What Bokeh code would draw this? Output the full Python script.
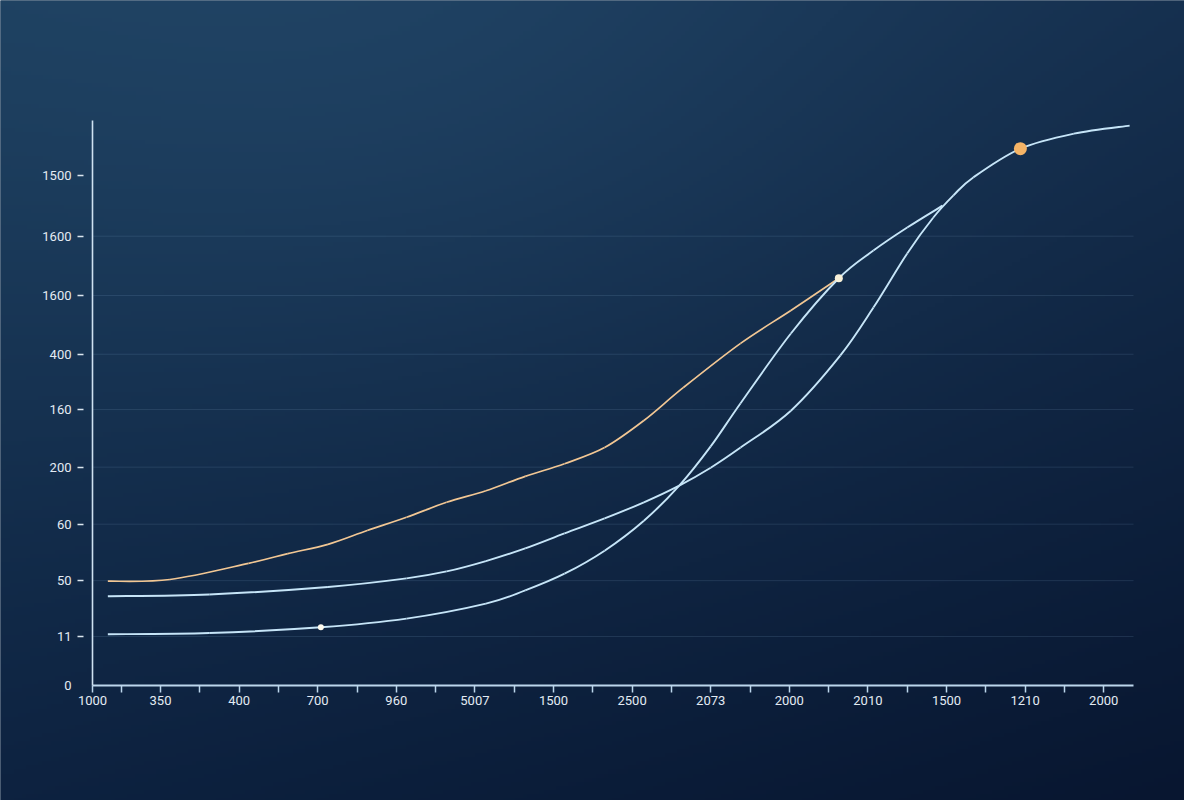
import numpy as np
from bokeh.plotting import figure
from bokeh.models import LinearAxis, FixedTicker, Range1d
from bokeh.embed import file_html
from bokeh.resources import INLINE

# ---------------- data ----------------
x_labels = ["1000", "350", "400", "700", "960", "5007", "1500", "2500",
            "2073", "2000", "2010", "1500", "1210", "2000"]
y_labels = ["0", "11", "50", "60", "200", "160", "400", "1600", "1600", "1500"]
y_levels = [0.15, 1.0, 1.97, 2.95, 3.94, 4.94, 5.90, 6.92, 7.95, 9.0]

orange_x = [-0.67, 0.12, 1.12, 1.62, 2.13, 2.63, 3.13, 3.64, 4.14, 4.64, 5.14,
            5.65, 6.15, 6.65, 7.38, 8.02, 8.63]
orange_y = [1.96, 1.99, 2.27, 2.44, 2.60, 2.84, 3.07, 3.33, 3.53, 3.78, 4.00,
            4.28, 4.75, 5.32, 6.09, 6.66, 7.22]

a_x = [-0.67, 0.62, 2.13, 3.13, 3.64, 4.14, 4.64, 5.14, 5.65, 6.15, 6.60, 7.00,
       7.38, 8.02, 8.65, 9.07, 9.50, 9.83, 10.09, 10.34, 10.94, 11.62, 12.33]
a_y = [1.70, 1.73, 1.86, 2.01, 2.13, 2.31, 2.53, 2.79, 3.05, 3.33, 3.62, 3.93,
       4.28, 4.92, 5.88, 6.71, 7.65, 8.27, 8.66, 8.97, 9.47, 9.73, 9.87]

b_x = [-0.67, 0.62, 2.04, 3.13, 4.14, 4.64, 5.14, 5.65, 6.15, 6.60, 7.00,
       7.38, 8.02, 8.63, 9.07, 9.50, 9.95]
b_y = [1.04, 1.06, 1.16, 1.31, 1.57, 1.80, 2.09, 2.49, 3.01, 3.62, 4.30,
       5.05, 6.26, 7.22, 7.70, 8.10, 8.48]

dot_x = [2.04, 8.63, 10.94]
dot_y = [1.16, 7.22, 9.47]

# ---------------- layout ----------------
W, H = 1184, 800
PX0, DX = 160.0, 78.6      # px of x=0, px per x unit
PY1, DY = 636.0, 57.6      # py (from top) of y=1, px per y unit

x_range = Range1d(-PX0 / DX, (W - PX0) / DX)
y_range = Range1d(1 - (H - PY1) / DY, 1 + PY1 / DY)

X_ORIGIN = (92 - PX0) / DX
X_END = (1133 - PX0) / DX
Y_ORIGIN = y_levels[0]
Y_TOP = 1 + (PY1 - 120) / DY
X_TICKAXIS = (83 - PX0) / DX

p = figure(width=W, height=H, x_range=x_range, y_range=y_range,
           output_backend="svg", toolbar_location=None,
           x_axis_location=None, y_axis_location=None, min_border=0)
p.title.visible = False
p.outline_line_color = None
p.background_fill_color = "#15304f"
p.border_fill_color = "#15304f"
p.xgrid.visible = False
p.ygrid.visible = False

# background gradient (slightly oversized so no edge seam shows)
nx, ny = 296, 200
PAD = 6.0
cols = -PAD + (np.arange(nx) + 0.5) * (W + 2 * PAD) / nx
rows = H + PAD - (np.arange(ny) + 0.5) * (H + 2 * PAD) / ny
PXg, PYg = np.meshgrid(cols, rows)
u = np.clip(PXg / W, 0, 1)
v = np.clip(PYg / H, 0, 1)
TL = np.array([28, 61, 92]); TR = np.array([21, 47, 78])
BL = np.array([13, 34, 64]); BR = np.array([8, 22, 48])
hl = np.array([6, 10, 12])
glow = np.exp(-(((PXg - 420) ** 2) / (2 * 380 ** 2) + ((PYg - 80) ** 2) / (2 * 260 ** 2)))
rgb = (TL[None, None, :] * ((1 - u) * (1 - v))[..., None]
       + TR[None, None, :] * (u * (1 - v))[..., None]
       + BL[None, None, :] * ((1 - u) * v)[..., None]
       + BR[None, None, :] * (u * v)[..., None]
       + hl[None, None, :] * glow[..., None])
img = np.empty((ny, nx), dtype=np.uint32)
view = img.view(dtype=np.uint8).reshape((ny, nx, 4))
for c in range(3):
    view[..., c] = np.clip(rgb[..., c], 0, 255).astype(np.uint8)
view[..., 3] = 255
padx, pady = PAD / DX, PAD / DY
p.image_rgba(image=[img], x=x_range.start - padx, y=y_range.start - pady,
             dw=x_range.end - x_range.start + 2 * padx,
             dh=y_range.end - y_range.start + 2 * pady,
             level="image")

# horizontal guide lines at the labelled levels (stop at the axis end)
grid_levels = y_levels[1:9]
p.segment(x0=[X_ORIGIN] * len(grid_levels), x1=[X_END] * len(grid_levels),
          y0=grid_levels, y1=grid_levels,
          line_color="#8db3d8", line_alpha=0.15, line_width=1)

FONT = "Roboto"
LABEL_COLOR = "#e3ebf3"
AXIS_COLOR = "#bcd6ec"

# x axis
x_ticks = [X_ORIGIN] + list(range(len(x_labels) - 1))
x_minor = [k - 0.5 for k in range(len(x_labels) - 1)]
xaxis = LinearAxis(fixed_location=Y_ORIGIN,
                   ticker=FixedTicker(ticks=x_ticks, minor_ticks=x_minor),
                   bounds=(X_ORIGIN, X_END),
                   major_label_overrides={t: s for t, s in zip(x_ticks, x_labels)},
                   axis_line_color=AXIS_COLOR, axis_line_width=2,
                   major_tick_line_color=AXIS_COLOR, major_tick_line_width=1.5,
                   major_tick_out=7, major_tick_in=0,
                   minor_tick_line_color=AXIS_COLOR, minor_tick_line_width=1.5,
                   minor_tick_out=7, minor_tick_in=0,
                   major_label_text_color=LABEL_COLOR, major_label_text_font=FONT,
                   major_label_text_font_size="13px", major_label_standoff=4)
p.add_layout(xaxis, "below")

# y axis (line + labels)
yaxis = LinearAxis(fixed_location=X_ORIGIN,
                   ticker=FixedTicker(ticks=y_levels, minor_ticks=[]),
                   bounds=(Y_ORIGIN, Y_TOP),
                   major_label_overrides={t: s for t, s in zip(y_levels, y_labels)},
                   axis_line_color="#cfe2f1", axis_line_width=1.6,
                   major_tick_line_color=None, major_tick_out=0, major_tick_in=0,
                   minor_tick_line_color=None,
                   major_label_text_color=LABEL_COLOR, major_label_text_font=FONT,
                   major_label_text_font_size="13px", major_label_standoff=21)
p.add_layout(yaxis, "left")

# y tick dashes, detached from the axis line
ytick = LinearAxis(fixed_location=X_TICKAXIS,
                   ticker=FixedTicker(ticks=y_levels[1:], minor_ticks=[]),
                   major_label_overrides={t: "" for t in y_levels[1:]},
                   axis_line_color=None,
                   major_tick_line_color="#dbe6ef", major_tick_line_width=1.5,
                   major_tick_out=6, major_tick_in=0,
                   minor_tick_line_color=None,
                   major_label_text_font_size="1px")
p.add_layout(ytick, "left")


# smooth curves through the read points (Catmull-Rom rendered as cubic Beziers)
def smooth(xs, ys, **kw):
    x = np.asarray(xs, float); y = np.asarray(ys, float)
    n = len(x)
    xp = np.concatenate([[x[0]], x, [x[-1]]])
    yp = np.concatenate([[y[0]], y, [y[-1]]])
    i = np.arange(n - 1) + 1
    cx0 = xp[i] + (xp[i + 1] - xp[i - 1]) / 6.0
    cy0 = yp[i] + (yp[i + 1] - yp[i - 1]) / 6.0
    cx1 = xp[i + 1] - (xp[i + 2] - xp[i]) / 6.0
    cy1 = yp[i + 1] - (yp[i + 2] - yp[i]) / 6.0
    p.bezier(x0=x[:-1], y0=y[:-1], x1=x[1:], y1=y[1:],
             cx0=cx0, cy0=cy0, cx1=cx1, cy1=cy1, **kw)


smooth(orange_x, orange_y, line_color="#f2c794", line_width=1.7)
smooth(a_x, a_y, line_color="#c6e5f8", line_width=1.9)
smooth(b_x, b_y, line_color="#c6e5f8", line_width=1.9)

p.scatter(dot_x, dot_y, size=[6, 8, 13],
          fill_color=["#fffbee", "#f7f0d8", "#f5b466"], line_color=None)

open("out.html", "w").write(file_html(p, INLINE))
